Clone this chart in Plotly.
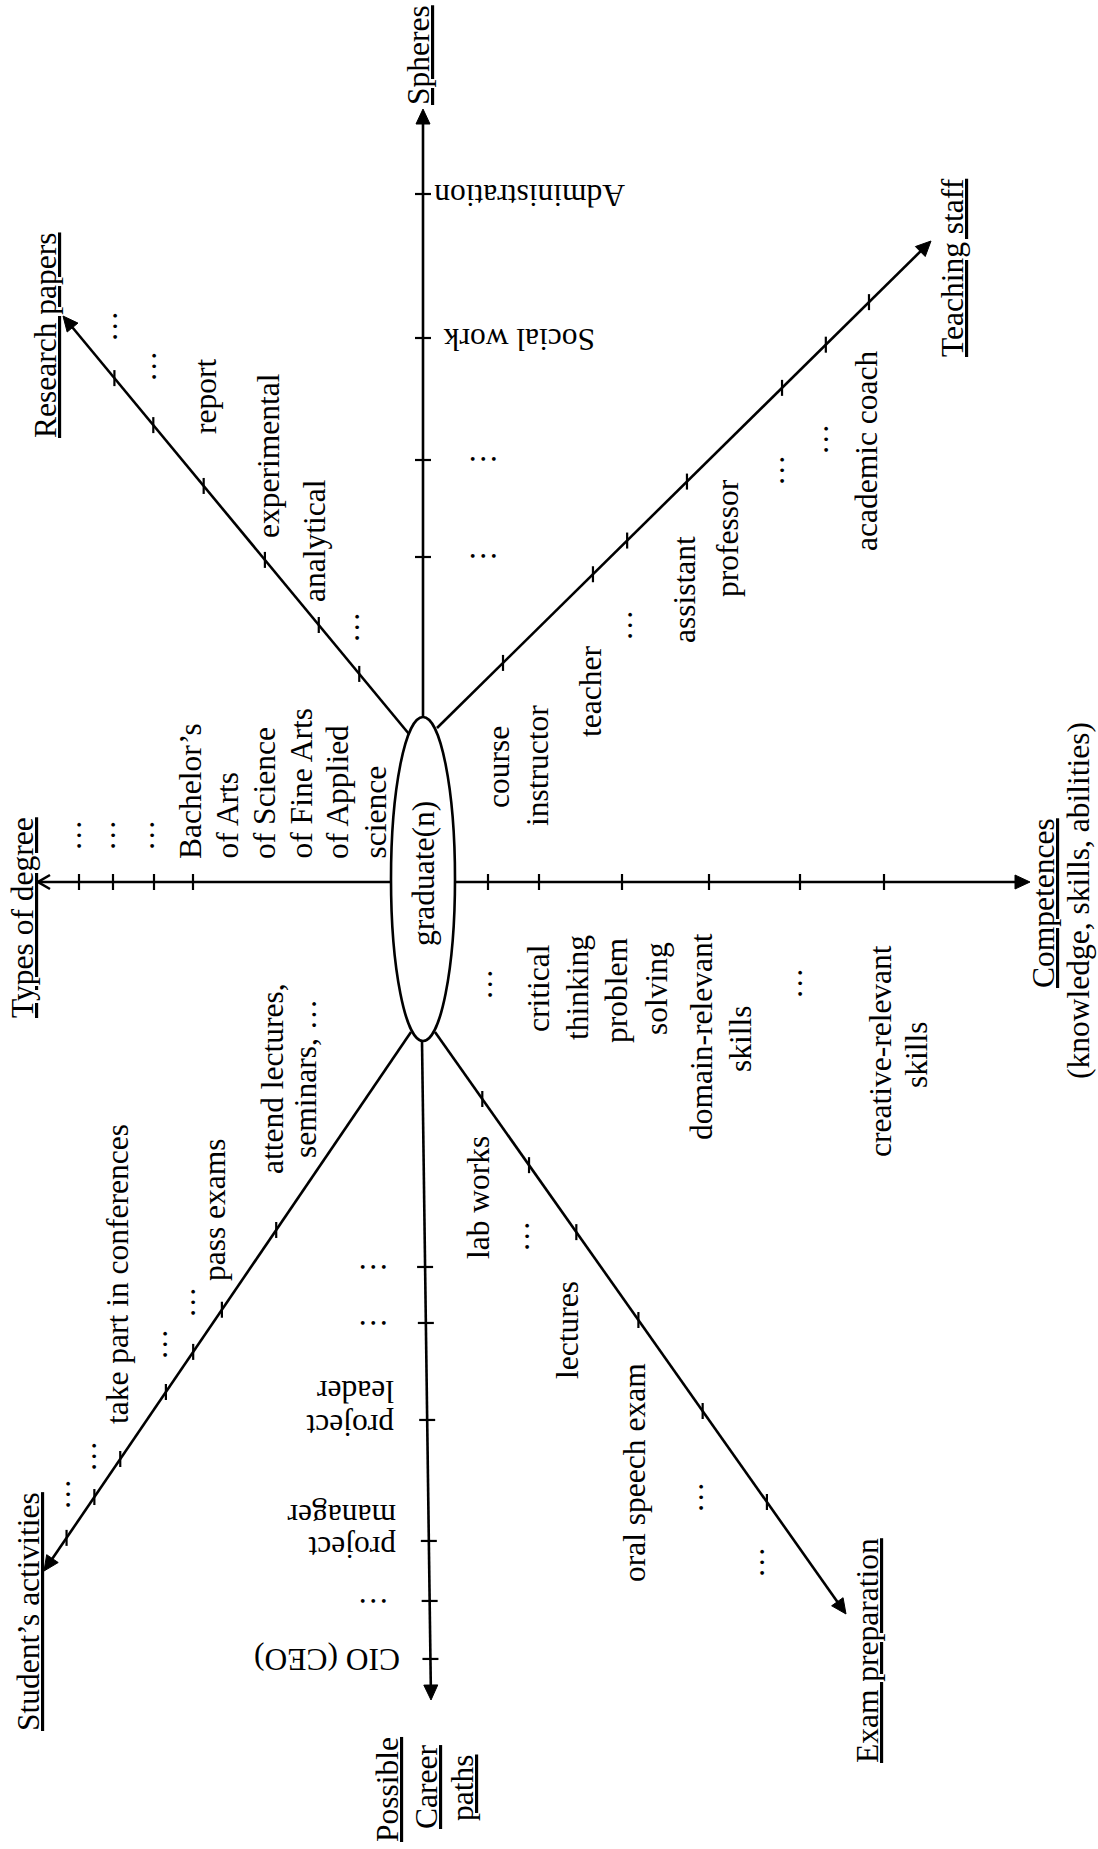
import math
import plotly.graph_objects as go

W, H = 1098, 1849
FONT = "Liberation Serif, Times New Roman, serif"
FS = 31.5
LW = 2.6

# ---------------- texts (data) ----------------
center_label = "graduate(n)"

title_texts = ["Spheres", "Research papers", "Teaching staff", "Types of degree",
               "Competences", "(knowledge, skills, abilities)",
               "Student’s activities", "Possible", "Career", "paths", "Exam preparation"]
title_underline = [True, True, True, True, True, False, True, True, True, True, True]

sphere_items = ["Administration", "Social work", "…", "…"]
research_items = ["report", "experimental", "analytical", "…", "…", "…"]
teaching_items = ["course", "instructor", "teacher", "…", "assistant", "professor",
                  "…", "…", "academic coach"]
degree_items = ["Bachelor’s", "of Arts", "of Science", "of Fine Arts", "of Applied",
                "science", "…", "…", "…"]
competence_items = ["…", "critical", "thinking", "problem", "solving", "domain-relevant",
                    "skills", "…", "creative-relevant", "skills"]
career_items = ["…", "…", "project", "leader", "project", "manager", "…", "CIO (CEO)"]
activity_items = ["attend lectures,", "seminars, …", "pass exams", "…", "…",
                  "take part in conferences", "…", "…"]
exam_items = ["lab works", "…", "lectures", "oral speech exam", "…", "…"]

# ---------------- layout geometry (positions, px) ----------------
ellipse_box = (391, 717, 455, 1041)

# each arm: start, end (arrow tip), tick distances along the arm, tick orientation, head type
arms = [
    dict(start=(423, 717), end=(423, 109), ticks=[160, 257, 379, 523], tick="h", head="fill"),
    dict(start=(409, 734), end=(63, 316), ticks=[78, 141.5, 226, 322, 401, 462], tick="v", head="fill"),
    dict(start=(437, 728), end=(931, 241), ticks=[92.7, 219, 267, 351, 484.5, 546, 606.6], tick="v", head="fill"),
    dict(start=(391, 882), end=(38, 882), ticks=[198, 237, 278, 312], tick="v", head="open"),
    dict(start=(455, 882), end=(1030, 882), ticks=[33, 84, 167, 254, 345, 429], tick="v", head="fill"),
    dict(start=(422, 1041), end=(431, 1700), ticks=[226, 282, 379, 500, 560, 618], tick="h", head="fill"),
    dict(start=(411, 1032), end=(44, 1571), ticks=[239.5, 336, 387, 435.5, 516.6, 562.6, 612], tick="v", head="fill"),
    dict(start=(435, 1032), end=(846, 1614), ticks=[82, 163, 245, 352.6, 464, 575.4], tick="v", head="fill"),
]

# label placements: (x, y, angle, xanchor, yanchor)
title_pos = [(418, 55, -90, "center", "middle"), (45, 335, -90, "center", "middle"),
             (952, 268, -90, "center", "middle"), (22, 918, -90, "center", "middle"),
             (1043, 903, -90, "center", "middle"), (1078, 901, -90, "center", "middle"),
             (28, 1612, -90, "center", "middle"), (387, 1790, -90, "center", "middle"),
             (426, 1787, -90, "center", "middle"), (462, 1788, -90, "center", "middle"),
             (867, 1651, -90, "center", "middle")]
center_pos = (423, 874, -90, "center", "middle")
sphere_pos = [(530, 196, 180, "center", "middle"), (519, 340, 180, "center", "middle"),
              (483, 468, 180, "center", "middle"), (483, 565, 180, "center", "middle")]
research_pos = [(205, 397, -90, "center", "middle"), (268, 456, -90, "center", "middle"),
                (314, 541, -90, "center", "middle"), (106, 326, -90, "center", "middle"),
                (145, 366, -90, "center", "middle"), (348, 627, -90, "center", "middle")]
teaching_pos = [(498, 767, -90, "center", "middle"), (537, 766, -90, "center", "middle"),
                (590, 692, -90, "center", "middle"), (621, 625, -90, "center", "middle"),
                (684, 590, -90, "center", "middle"), (727, 538, -90, "center", "middle"),
                (773, 470, -90, "center", "middle"), (817, 439, -90, "center", "middle"),
                (866, 451, -90, "center", "middle")]
degree_pos = [(190, 861, -90, "center", "bottom"), (227, 861, -90, "center", "bottom"),
              (264, 861, -90, "center", "bottom"), (301, 861, -90, "center", "bottom"),
              (337, 861, -90, "center", "bottom"), (375, 861, -90, "center", "bottom"),
              (70, 835, -90, "center", "middle"), (104, 835, -90, "center", "middle"),
              (143, 835, -90, "center", "middle")]
competence_pos = [(481, 984, -90, "center", "middle"), (538, 988, -90, "center", "middle"),
                  (577, 988, -90, "center", "middle"), (616, 991, -90, "center", "middle"),
                  (656, 989, -90, "center", "middle"), (701, 1037, -90, "center", "middle"),
                  (740, 1039, -90, "center", "middle"), (791, 983, -90, "center", "middle"),
                  (880, 1051, -90, "center", "middle"), (916, 1055, -90, "center", "middle")]
career_pos = [(373, 1276, 180, "center", "middle"), (373, 1332, 180, "center", "middle"),
              (396, 1426, 180, "right", "middle"), (396, 1392, 180, "right", "middle"),
              (398, 1548, 180, "right", "middle"), (398, 1516, 180, "right", "middle"),
              (373, 1610, 180, "center", "middle"), (402, 1660, 180, "right", "middle")]
activity_pos = [(272, 1079, -90, "center", "middle"), (305, 1079, -90, "center", "middle"),
                (214, 1210, -90, "center", "middle"), (184, 1302, -90, "center", "middle"),
                (156, 1344, -90, "center", "middle"), (117, 1274, -90, "center", "middle"),
                (85, 1456, -90, "center", "middle"), (59, 1494, -90, "center", "middle")]
exam_pos = [(478, 1198, -90, "center", "middle"), (518, 1236, -90, "center", "middle"),
            (567, 1330, -90, "center", "middle"), (634, 1473, -90, "center", "middle"),
            (692, 1497, -90, "center", "middle"), (753, 1562, -90, "center", "middle")]

# ---------------- build figure ----------------
shapes = []
line_style = dict(color="black", width=LW)

x0, y0, x1, y1 = ellipse_box
shapes.append(dict(type="circle", xref="x", yref="y", x0=x0, y0=y0, x1=x1, y1=y1,
                   line=line_style, fillcolor="rgba(0,0,0,0)"))

for arm in arms:
    sx, sy = arm["start"]
    ex, ey = arm["end"]
    L = math.hypot(ex - sx, ey - sy)
    ux, uy = (ex - sx) / L, (ey - sy) / L
    nx, ny = -uy, ux
    if arm["head"] == "fill":
        hl, hw = 15, 7
        bx, by = ex - ux * hl, ey - uy * hl
        shapes.append(dict(type="line", xref="x", yref="y", x0=sx, y0=sy,
                           x1=bx + ux * 3, y1=by + uy * 3, line=line_style))
        path = "M {:.2f} {:.2f} L {:.2f} {:.2f} L {:.2f} {:.2f} Z".format(
            ex, ey, bx + nx * hw, by + ny * hw, bx - nx * hw, by - ny * hw)
        shapes.append(dict(type="path", xref="x", yref="y", path=path,
                           fillcolor="black", line=dict(color="black", width=1)))
    else:
        shapes.append(dict(type="line", xref="x", yref="y", x0=sx, y0=sy,
                           x1=ex, y1=ey, line=line_style))
        hl, hw = 12, 7
        bx, by = ex - ux * hl, ey - uy * hl
        path = "M {:.2f} {:.2f} L {:.2f} {:.2f} L {:.2f} {:.2f}".format(
            bx + nx * hw, by + ny * hw, ex, ey, bx - nx * hw, by - ny * hw)
        shapes.append(dict(type="path", xref="x", yref="y", path=path,
                           line=dict(color="black", width=LW)))
    for d in arm["ticks"]:
        px, py = sx + ux * d, sy + uy * d
        if arm["tick"] == "h":
            shapes.append(dict(type="line", xref="x", yref="y", x0=px - 8, y0=py,
                               x1=px + 8, y1=py, line=dict(color="black", width=2.2)))
        else:
            shapes.append(dict(type="line", xref="x", yref="y", x0=px, y0=py - 8,
                               x1=px, y1=py + 8, line=dict(color="black", width=2.2)))

annotations = []


def add_text(text, pos):
    x, y, ang, xa, ya = pos
    annotations.append(dict(text=text, x=x, y=y, xref="x", yref="y", showarrow=False,
                            textangle=ang, xanchor=xa, yanchor=ya,
                            font=dict(family=FONT, size=FS, color="black")))


for t, u, p in zip(title_texts, title_underline, title_pos):
    add_text("<u>" + t + "</u>" if u else t, p)
add_text(center_label, center_pos)
for items, poss in [(sphere_items, sphere_pos), (research_items, research_pos),
                    (teaching_items, teaching_pos), (degree_items, degree_pos),
                    (competence_items, competence_pos), (career_items, career_pos),
                    (activity_items, activity_pos), (exam_items, exam_pos)]:
    for t, p in zip(items, poss):
        add_text(t, p)

fig = go.Figure()
fig.update_layout(
    width=W, height=H, autosize=False,
    margin=dict(l=0, r=0, t=0, b=0),
    paper_bgcolor="white", plot_bgcolor="white",
    xaxis=dict(range=[0, W], visible=False, fixedrange=True),
    yaxis=dict(range=[H, 0], visible=False, fixedrange=True),
    shapes=shapes, annotations=annotations, showlegend=False,
)

fig.write_html("out.html", config={"displayModeBar": False},
               post_script="document.body.style.margin='0';")
